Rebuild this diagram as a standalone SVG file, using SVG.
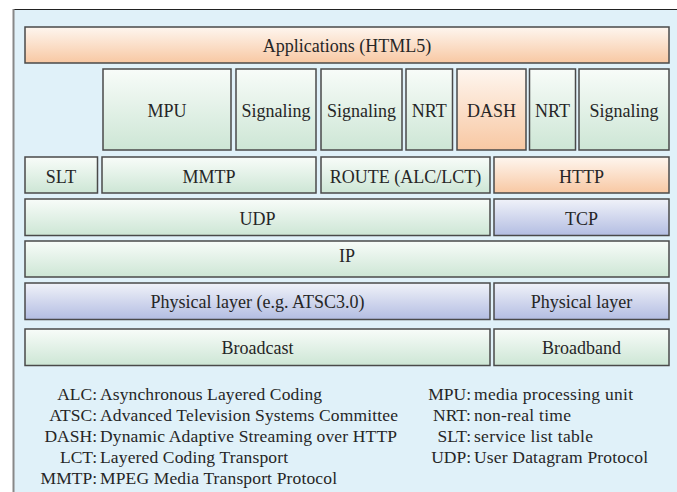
<svg xmlns="http://www.w3.org/2000/svg" width="677" height="492" viewBox="0 0 677 492">
<defs>
<linearGradient id="gGreen" x1="0" y1="0" x2="0" y2="1"><stop offset="0" stop-color="#f8fcf9"/><stop offset="1" stop-color="#cde6d5"/></linearGradient>
<linearGradient id="gOrange" x1="0" y1="0" x2="0" y2="1"><stop offset="0" stop-color="#fef6ef"/><stop offset="1" stop-color="#f8c8a3"/></linearGradient>
<linearGradient id="gBlue" x1="0" y1="0" x2="0" y2="1"><stop offset="0" stop-color="#f0f2f9"/><stop offset="1" stop-color="#b3bde2"/></linearGradient>
<style>
text{font-family:'Liberation Serif','Times New Roman','DejaVu Serif',serif}
.box{stroke:#4a4a4a;stroke-width:1.5}
.g{fill:url(#gGreen)}
.o{fill:url(#gOrange)}
.b{fill:url(#gBlue)}
.lbl{font-size:18px;fill:#262626;text-anchor:middle}
.leg{font-size:17.5px;fill:#262626}
.ab{text-anchor:end}
</style>
</defs>
<rect x="13" y="9" width="670" height="490" fill="#e0f1f9"/>
<line x1="13" y1="9.5" x2="677" y2="9.5" stroke="#222" stroke-width="1"/>
<line x1="13.5" y1="9" x2="13.5" y2="492" stroke="#888" stroke-width="2"/>

<g id="applications"><rect class="box o" x="25" y="27" width="644" height="36"/><text class="lbl" x="347" y="52">Applications (HTML5)</text></g>

<g id="mpu"><rect class="box g" x="103" y="69" width="128" height="81"/><text class="lbl" x="167" y="116.5">MPU</text></g>
<g id="signaling1"><rect class="box g" x="236" y="69" width="80" height="81"/><text class="lbl" x="276" y="116.5">Signaling</text></g>
<g id="signaling2"><rect class="box g" x="321" y="69" width="81" height="81"/><text class="lbl" x="361.5" y="116.5">Signaling</text></g>
<g id="nrt1"><rect class="box g" x="406" y="69" width="46.5" height="81"/><text class="lbl" x="429.2" y="116.5">NRT</text></g>
<g id="dash"><rect class="box o" x="457" y="69" width="69" height="81"/><text class="lbl" x="491.5" y="116.5">DASH</text></g>
<g id="nrt2"><rect class="box g" x="529.5" y="69" width="46" height="81"/><text class="lbl" x="552.5" y="116.5">NRT</text></g>
<g id="signaling3"><rect class="box g" x="579" y="69" width="90" height="81"/><text class="lbl" x="624" y="116.5">Signaling</text></g>

<g id="slt"><rect class="box g" x="25" y="157" width="72.5" height="36"/><text class="lbl" x="61" y="182.5">SLT</text></g>
<g id="mmtp"><rect class="box g" x="102" y="157" width="214" height="36"/><text class="lbl" x="209" y="182.5">MMTP</text></g>
<g id="route"><rect class="box g" x="321" y="157" width="169" height="36"/><text class="lbl" x="405.5" y="182.5">ROUTE (ALC/LCT)</text></g>
<g id="http"><rect class="box o" x="494" y="157" width="175" height="36"/><text class="lbl" x="581.5" y="182.5">HTTP</text></g>

<g id="udp"><rect class="box g" x="25" y="199" width="465" height="36.5"/><text class="lbl" x="257.5" y="225">UDP</text></g>
<g id="tcp"><rect class="box b" x="494" y="199" width="175" height="36.5"/><text class="lbl" x="581.5" y="225">TCP</text></g>

<g id="ip"><rect class="box g" x="25" y="241" width="644" height="36"/><text class="lbl" x="347" y="262">IP</text></g>

<g id="phy-broadcast"><rect class="box b" x="25" y="283" width="465" height="36.5"/><text class="lbl" x="257.5" y="308">Physical layer (e.g. ATSC3.0)</text></g>
<g id="phy-broadband"><rect class="box b" x="494" y="283" width="175" height="36.5"/><text class="lbl" x="581.5" y="308">Physical layer</text></g>

<g id="broadcast"><rect class="box g" x="25" y="329" width="465" height="36.5"/><text class="lbl" x="257.5" y="354">Broadcast</text></g>
<g id="broadband"><rect class="box g" x="494" y="329" width="175" height="36.5"/><text class="lbl" x="581.5" y="354">Broadband</text></g>

<g id="legend">
<text class="leg ab" x="97" y="399.5">ALC:</text><text class="leg" x="100" y="399.5" textLength="222" lengthAdjust="spacing">Asynchronous Layered Coding</text>
<text class="leg ab" x="97" y="420.5">ATSC:</text><text class="leg" x="100" y="420.5" textLength="298" lengthAdjust="spacing">Advanced Television Systems Committee</text>
<text class="leg ab" x="97" y="441.5">DASH:</text><text class="leg" x="100" y="441.5" textLength="297" lengthAdjust="spacing">Dynamic Adaptive Streaming over HTTP</text>
<text class="leg ab" x="97" y="462.5">LCT:</text><text class="leg" x="100" y="462.5" textLength="188" lengthAdjust="spacing">Layered Coding Transport</text>
<text class="leg ab" x="97" y="483.5">MMTP:</text><text class="leg" x="100" y="483.5" textLength="237" lengthAdjust="spacing">MPEG Media Transport Protocol</text>
<text class="leg ab" x="471" y="399.5">MPU:</text><text class="leg" x="474" y="399.5" textLength="159" lengthAdjust="spacing">media processing unit</text>
<text class="leg ab" x="471" y="420.5">NRT:</text><text class="leg" x="474" y="420.5" textLength="97" lengthAdjust="spacing">non-real time</text>
<text class="leg ab" x="471" y="441.5">SLT:</text><text class="leg" x="474" y="441.5" textLength="119" lengthAdjust="spacing">service list table</text>
<text class="leg ab" x="471" y="462.5">UDP:</text><text class="leg" x="474" y="462.5" textLength="174" lengthAdjust="spacing">User Datagram Protocol</text>
</g>
</svg>
